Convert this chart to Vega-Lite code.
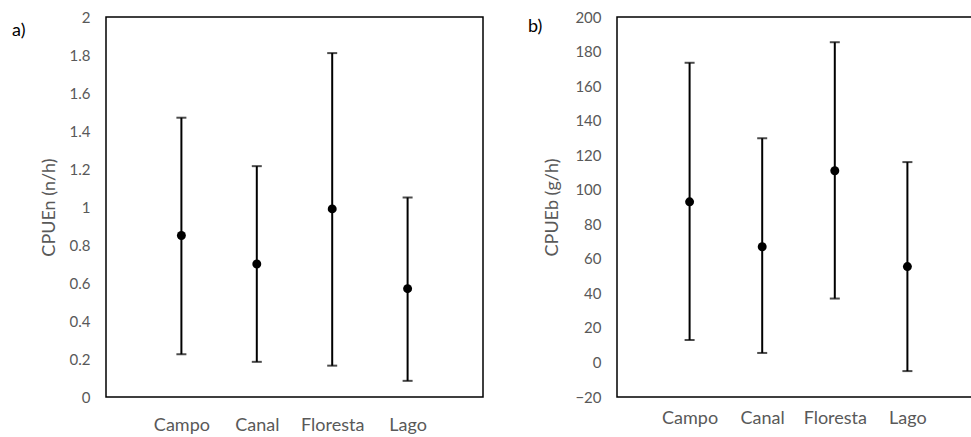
{
  "$schema": "https://vega.github.io/schema/vega-lite/v6.json",
  "padding": {"left": 11, "top": 4, "right": 0, "bottom": 0},
  "background": "white",
  "config": {
    "font": "Lato",
    "view": {"stroke": "black", "strokeWidth": 1.5},
    "axis": {"grid": false, "ticks": false, "domain": false, "labelColor": "#595959", "titleColor": "#595959", "titleFontWeight": "normal", "titleFontSize": 18, "labelFontSize": 15},
    "axisX": {"labelAngle": 0, "labelFontSize": 18, "title": null},
    "axisY": {"labelPadding": 16, "titlePadding": 11},
    "title": {"fontWeight": "normal", "fontSize": 18, "color": "black", "anchor": "start", "frame": "group", "baseline": "top", "offset": 0}
  },
  "datasets": {
    "cpue": [
      {"site": "Campo", "n_mean": 0.85, "n_lo": 0.225, "n_hi": 1.47, "b_mean": 93, "b_lo": 13, "b_hi": 173.5},
      {"site": "Canal", "n_mean": 0.70, "n_lo": 0.185, "n_hi": 1.215, "b_mean": 67, "b_lo": 5.5, "b_hi": 129.8},
      {"site": "Floresta", "n_mean": 0.99, "n_lo": 0.165, "n_hi": 1.81, "b_mean": 111, "b_lo": 37, "b_hi": 185.4},
      {"site": "Lago", "n_mean": 0.57, "n_lo": 0.085, "n_hi": 1.05, "b_mean": 55.5, "b_lo": -5, "b_hi": 116}
    ]
  },
  "spacing": 43,
  "hconcat": [
    {
      "width": 377,
      "height": 380,
      "title": {"text": ["", "a)"], "lineHeight": 17, "dx": -94, "dy": 34},
      "data": {"name": "cpue"},
      "encoding": {
        "x": {"field": "site", "type": "nominal", "scale": {"type": "point", "padding": 1}, "axis": {"labelPadding": 19, "labelOverlap": false}}
      },
      "layer": [
        {
          "mark": {"type": "rule", "color": "black", "strokeWidth": 2},
          "encoding": {
            "y": {"field": "n_lo", "type": "quantitative", "scale": {"domain": [0, 2], "nice": false}, "axis": {"values": [0, 0.2, 0.4, 0.6, 0.8, 1, 1.2, 1.4, 1.6, 1.8, 2], "tickCount": 50, "format": "~g", "labelOverlap": false}, "title": "CPUEn (n/h)"},
            "y2": {"field": "n_hi"}
          }
        },
        {
          "mark": {"type": "tick", "color": "black", "thickness": 2, "size": 10},
          "encoding": {"y": {"field": "n_lo", "type": "quantitative"}}
        },
        {
          "mark": {"type": "tick", "color": "black", "thickness": 2, "size": 10},
          "encoding": {"y": {"field": "n_hi", "type": "quantitative"}}
        },
        {
          "mark": {"type": "point", "filled": true, "color": "black", "opacity": 1, "size": 80},
          "encoding": {"y": {"field": "n_mean", "type": "quantitative"}}
        }
      ]
    },
    {
      "width": 363,
      "height": 380,
      "title": {"text": "b)", "dx": -89, "dy": 30},
      "data": {"name": "cpue"},
      "encoding": {
        "x": {"field": "site", "type": "nominal", "scale": {"type": "point", "padding": 1}, "axis": {"labelPadding": 12, "labelOverlap": false}}
      },
      "layer": [
        {
          "mark": {"type": "rule", "color": "black", "strokeWidth": 2},
          "encoding": {
            "y": {"field": "b_lo", "type": "quantitative", "scale": {"domain": [-20, 200], "nice": false}, "axis": {"values": [-20, 0, 20, 40, 60, 80, 100, 120, 140, 160, 180, 200], "tickCount": 50, "format": "d", "labelOverlap": false, "titlePadding": 13}, "title": "CPUEb (g/h)"},
            "y2": {"field": "b_hi"}
          }
        },
        {
          "mark": {"type": "tick", "color": "black", "thickness": 2, "size": 10},
          "encoding": {"y": {"field": "b_lo", "type": "quantitative"}}
        },
        {
          "mark": {"type": "tick", "color": "black", "thickness": 2, "size": 10},
          "encoding": {"y": {"field": "b_hi", "type": "quantitative"}}
        },
        {
          "mark": {"type": "point", "filled": true, "color": "black", "opacity": 1, "size": 80},
          "encoding": {"y": {"field": "b_mean", "type": "quantitative"}}
        }
      ]
    }
  ]
}
